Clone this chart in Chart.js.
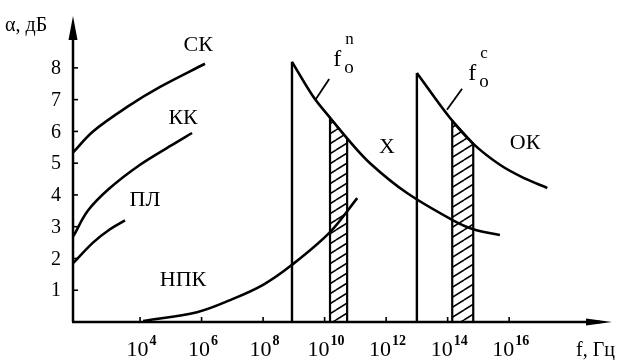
<!DOCTYPE html>
<html>
<head>
<meta charset="utf-8">
<script src="https://cdn.jsdelivr.net/npm/chart.js@4.4.0/dist/chart.umd.min.js"></script>
<style>
  html, body { margin: 0; padding: 0; background: #fff; }
  canvas { display: block; }
</style>
</head>
<body>
<canvas id="attenuationChart" width="629" height="360"></canvas>
<script>
// f in Hz, attenuation in dB
const skFreq = [68, 295, 3.8e3, 4.47e4, 1.29e6];
const skAtt = [5.35, 6.0, 6.77, 7.4, 8.13];

const kkFreq = [68, 200, 1e3, 1e4, 1e5, 4.9e5];
const kkAtt = [2.7, 3.5, 4.2, 4.95, 5.55, 5.95];

const plFreq = [68, 295, 1.05e3, 3.24e3];
const plAtt = [1.86, 2.5, 2.92, 3.2];

const npkFreq = [1.26e4, 7.1e5, 8.5e6, 1e8, 8.7e8, 1.5e10, 1.15e11];
const npkAtt = [0.03, 0.31, 0.69, 1.17, 1.8, 2.83, 3.9];

// waveguide (X) - cutoff edge then decay
const xEdgeFreq = [8.7e8, 8.7e8];
const xEdgeAtt = [0, 8.19];
const xFreq = [8.7e8, 4.3e9, 1.5e10, 5.4e10, 3.0e11, 4.8e12, 1.5e14, 6.8e14, 5.0e15];
const xAtt = [8.19, 7.09, 6.43, 5.78, 5.0, 4.06, 3.2, 2.92, 2.74];

// optical cable (ОК)
const okEdgeFreq = [1e13, 1e13];
const okEdgeAtt = [0, 7.84];
const okFreq = [1e13, 1.2e14, 6.3e14, 5.0e15, 3.2e16, 1.74e17];
const okAtt = [7.84, 6.42, 5.64, 4.95, 4.52, 4.22];

// hatched working bands
const band1Freq = [1.5e10, 1.5e10, 5.4e10, 5.4e10];
const band1Att = [0, 6.43, 5.78, 0];
const band2Freq = [1.41e14, 1.41e14, 6.8e14, 6.8e14];
const band2Att = [0, 6.34, 5.61, 0];

// pointer strokes for f0 labels
const leadNFreq = [4.9e9, 1.41e10];
const leadNAtt = [6.98, 7.65];
const leadCFreq = [9.5e13, 2.95e14];
const leadCAtt = [6.68, 7.34];

const xTickValues = [1e4, 1e6, 1e8, 1e10, 1e12, 1e14, 1e16];
const xTickExps = ['4', '6', '8', '10', '12', '14', '16'];
const yTickValues = [1, 2, 3, 4, 5, 6, 7, 8];

const curveLabels = [
  { text: 'СК', f: 7.8e5, a: 8.72 },
  { text: 'КК', f: 2.5e5, a: 6.43 },
  { text: 'ПЛ', f: 1.45e4, a: 3.84 },
  { text: 'НПК', f: 2.5e5, a: 1.32 },
  { text: 'X', f: 1.07e12, a: 5.51 },
  { text: 'ОК', f: 3.3e16, a: 5.64 }
];
const f0Labels = [
  { sup: 'n', f: 1.9e10, a: 8.06 },
  { sup: 'c', f: 4.7e14, a: 7.62 }
];

const SERIF = '"Liberation Serif", "DejaVu Serif", serif';

function pts(xs, ys) {
  return xs.map((x, i) => ({ x: x, y: ys[i] }));
}

function hatchPattern() {
  const c = document.createElement('canvas');
  c.width = 16;
  c.height = 10;
  const g = c.getContext('2d');
  g.strokeStyle = '#000';
  g.lineWidth = 1.6;
  for (let k = -1; k <= 1; k++) {
    g.beginPath();
    g.moveTo(0, 10 + 10 * k);
    g.lineTo(16, 10 * k);
    g.stroke();
  }
  return g.createPattern(c, 'repeat');
}

function curve(xs, ys) {
  return {
    data: pts(xs, ys),
    borderColor: '#000',
    borderWidth: 2.6,
    pointRadius: 0,
    fill: false,
    tension: 0.35
  };
}

function straight(xs, ys, w) {
  return {
    data: pts(xs, ys),
    borderColor: '#000',
    borderWidth: w,
    pointRadius: 0,
    fill: false,
    tension: 0
  };
}

function band(xs, ys, pattern) {
  return {
    data: pts(xs, ys),
    borderColor: '#000',
    borderWidth: 2.2,
    pointRadius: 0,
    tension: 0,
    fill: 'origin',
    backgroundColor: pattern,
    order: 1
  };
}

const axesPlugin = {
  id: 'handAxes',
  afterDatasetsDraw(chart) {
    const ctx = chart.ctx;
    const xs = chart.scales.x;
    const ys = chart.scales.y;
    const left = xs.getPixelForValue(xs.min);
    const right = xs.getPixelForValue(xs.max);
    const bottom = ys.getPixelForValue(0);
    const top = ys.getPixelForValue(ys.max);

    ctx.save();
    ctx.strokeStyle = '#000';
    ctx.fillStyle = '#000';
    ctx.lineWidth = 2.5;

    // axes
    ctx.beginPath();
    ctx.moveTo(left, bottom);
    ctx.lineTo(left, top + 10);
    ctx.moveTo(left - 1, bottom);
    ctx.lineTo(right - 10, bottom);
    ctx.stroke();

    // arrows
    ctx.beginPath();
    ctx.moveTo(left, top - 2);
    ctx.lineTo(left - 4.5, top + 22);
    ctx.lineTo(left + 4.5, top + 22);
    ctx.closePath();
    ctx.fill();
    ctx.beginPath();
    ctx.moveTo(right + 2, bottom);
    ctx.lineTo(right - 24, bottom - 3.5);
    ctx.lineTo(right - 24, bottom + 3.5);
    ctx.closePath();
    ctx.fill();

    // y ticks and labels
    ctx.lineWidth = 1.6;
    ctx.font = '20px ' + SERIF;
    ctx.textAlign = 'right';
    ctx.textBaseline = 'middle';
    yTickValues.forEach(v => {
      const y = ys.getPixelForValue(v);
      ctx.beginPath();
      ctx.moveTo(left, y);
      ctx.lineTo(left + 5, y);
      ctx.stroke();
      ctx.fillText(String(v), left - 12, y + 1);
    });

    // x ticks and labels
    ctx.textAlign = 'left';
    ctx.textBaseline = 'alphabetic';
    xTickValues.forEach((v, i) => {
      const x = xs.getPixelForValue(v);
      ctx.beginPath();
      ctx.moveTo(x, bottom);
      ctx.lineTo(x, bottom - 5);
      ctx.stroke();
      ctx.font = '22px ' + SERIF;
      const wBase = ctx.measureText('10').width;
      ctx.font = 'bold 14px ' + SERIF;
      const wExp = ctx.measureText(xTickExps[i]).width;
      const x0 = x - (wBase + wExp) / 2 + 1;
      ctx.font = '22px ' + SERIF;
      ctx.fillText('10', x0, 356);
      ctx.font = 'bold 14px ' + SERIF;
      ctx.fillText(xTickExps[i], x0 + wBase + 1, 345);
    });

    // axis titles
    ctx.font = '20px ' + SERIF;
    ctx.fillText('f, Гц', 576, 356);
    ctx.font = '20px ' + SERIF;
    ctx.fillText('α, дБ', 5, 31);

    // curve names
    ctx.font = '22px ' + SERIF;
    ctx.textAlign = 'center';
    ctx.textBaseline = 'middle';
    curveLabels.forEach(l => {
      ctx.fillText(l.text, xs.getPixelForValue(l.f), ys.getPixelForValue(l.a));
    });

    // f0 labels with stacked sub/superscript
    ctx.textAlign = 'left';
    ctx.textBaseline = 'alphabetic';
    f0Labels.forEach(l => {
      const x = xs.getPixelForValue(l.f);
      const y = ys.getPixelForValue(l.a);
      ctx.font = '24px ' + SERIF;
      ctx.fillText('f', x, y);
      ctx.font = '19px ' + SERIF;
      ctx.fillText('o', x + 11, y + 7);
      ctx.font = '17px ' + SERIF;
      ctx.fillText(l.sup, x + 12, y - 22);
    });

    ctx.restore();
  }
};

const pattern = hatchPattern();

new Chart(document.getElementById('attenuationChart'), {
  type: 'line',
  data: {
    datasets: [
      curve(skFreq, skAtt),
      curve(kkFreq, kkAtt),
      curve(plFreq, plAtt),
      curve(npkFreq, npkAtt),
      straight(xEdgeFreq, xEdgeAtt, 2.4),
      curve(xFreq, xAtt),
      straight(okEdgeFreq, okEdgeAtt, 2.4),
      curve(okFreq, okAtt),
      straight(leadNFreq, leadNAtt, 1.8),
      straight(leadCFreq, leadCAtt, 1.8),
      band(band1Freq, band1Att, pattern),
      band(band2Freq, band2Att, pattern)
    ]
  },
  options: {
    responsive: false,
    animation: false,
    devicePixelRatio: 1,
    layout: { padding: { left: 73, right: 19, top: 18, bottom: 38 } },
    plugins: { legend: { display: false }, tooltip: { enabled: false } },
    scales: {
      x: { type: 'logarithmic', min: 66, max: 1.9e19, display: false },
      y: { type: 'linear', min: 0, max: 9.57, display: false }
    }
  },
  plugins: [axesPlugin]
});
</script>
</body>
</html>
